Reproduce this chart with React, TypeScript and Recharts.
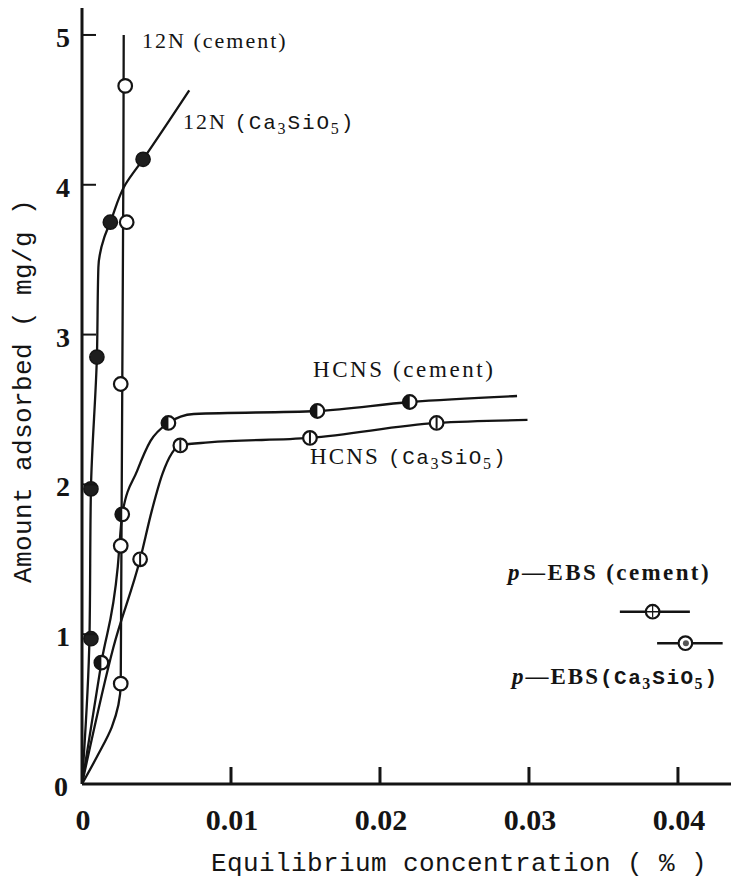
import React from 'react';
import { ComposedChart, Line, Scatter, XAxis, YAxis, ErrorBar } from 'recharts';

// ---------- axis ticks ----------
const xTicks = [0, 0.01, 0.02, 0.03, 0.04];
const xTickLabels = ['0', '0.01', '0.02', '0.03', '0.04'];
const yTicks = [0, 1, 2, 3, 4, 5];
const yTickLabels = ['0', '1', '2', '3', '4', '5'];

// ---------- 12N (cement) ----------
const n12CementCurveX = [0, 0.0011, 0.002, 0.0026, 0.0028];
const n12CementCurveY = [0, 0.2, 0.38, 0.67, 5.0];
const n12CementPtsX = [0.0026, 0.0026, 0.0026, 0.003, 0.0029];
const n12CementPtsY = [0.67, 1.59, 2.67, 3.75, 4.66];

// ---------- 12N (Ca3SiO5) ----------
const n12CasCurveX = [0, 0.0005, 0.0006, 0.001, 0.0011, 0.0015, 0.0019, 0.0029, 0.0041, 0.0072];
const n12CasCurveY = [0, 0.97, 1.97, 2.85, 3.45, 3.65, 3.75, 4.0, 4.17, 4.63];
const n12CasPtsX = [0.0006, 0.0006, 0.001, 0.0019, 0.0041];
const n12CasPtsY = [0.97, 1.97, 2.85, 3.75, 4.17];

// ---------- HCNS (cement) ----------
const hcnsCementCurveX = [0, 0.0013, 0.0024, 0.0027, 0.0037, 0.0046, 0.0058, 0.0075, 0.0158, 0.022, 0.0292];
const hcnsCementCurveY = [0, 0.81, 1.45, 1.8, 2.09, 2.29, 2.41, 2.47, 2.49, 2.55, 2.59];
const hcnsCementPtsX = [0.0013, 0.0027, 0.0058, 0.0158, 0.022];
const hcnsCementPtsY = [0.81, 1.8, 2.41, 2.49, 2.55];

// ---------- HCNS (Ca3SiO5) ----------
const hcnsCasCurveX = [0, 0.0021, 0.0039, 0.0047, 0.0054, 0.0066, 0.0085, 0.0153, 0.0238, 0.0299];
const hcnsCasCurveY = [0, 0.91, 1.5, 1.83, 2.07, 2.26, 2.28, 2.31, 2.41, 2.43];
const hcnsCasPtsX = [0.0039, 0.0066, 0.0153, 0.0238];
const hcnsCasPtsY = [1.5, 2.26, 2.31, 2.41];

// ---------- p-EBS ----------
const ebsCementX = [0.0383];
const ebsCementY = [1.15];
const ebsCementErr = [[0.0022, 0.0025]];
const ebsCasX = [0.0405];
const ebsCasY = [0.94];
const ebsCasErr = [[0.0019, 0.0025]];

// ---------- annotations (anchor = left end of text baseline) ----------
const annoIds = ['n12c', 'n12s', 'hcnsc', 'hcnss', 'ebsc', 'ebss'];
const annoX = [0.00403, 0.00678, 0.0155, 0.0153, 0.0286, 0.02886];
const annoY = [4.913, 4.373, 2.717, 2.136, 1.362, 0.668];

const xTitle = 'Equilibrium concentration ( % )';
const yTitle = 'Amount adsorbed ( mg/g )';

const zip = (xs: number[], ys: number[]) => xs.map((x, i) => ({ x, y: ys[i] }));

const INK = '#141414';
const SERIF = '"Liberation Serif", "DejaVu Serif", serif';
const MONO = '"Liberation Mono", "DejaVu Sans Mono", monospace';
const R = 6.8;

const OpenCircle = (p: any) => (
  <circle cx={p.cx} cy={p.cy} r={R} fill="#fff" stroke={INK} strokeWidth={2.2} />
);
const FilledCircle = (p: any) => (
  <circle cx={p.cx} cy={p.cy} r={R + 0.3} fill="#1e1e1e" stroke={INK} strokeWidth={1.5} />
);
const HalfCircle = (p: any) => (
  <g>
    <circle cx={p.cx} cy={p.cy} r={R} fill="#fff" stroke={INK} strokeWidth={2.2} />
    <path d={`M${p.cx},${p.cy - R} A${R},${R} 0 0 0 ${p.cx},${p.cy + R} Z`} fill={INK} />
  </g>
);
const BarCircle = (p: any) => (
  <g>
    <circle cx={p.cx} cy={p.cy} r={R} fill="#fff" stroke={INK} strokeWidth={2.2} />
    <line x1={p.cx} x2={p.cx} y1={p.cy - R + 1} y2={p.cy + R - 1} stroke={INK} strokeWidth={2} />
  </g>
);
const CrossCircle = (p: any) => (
  <g>
    <circle cx={p.cx} cy={p.cy} r={R} fill="#fff" stroke={INK} strokeWidth={2.2} />
    <line x1={p.cx - R} x2={p.cx + R} y1={p.cy} y2={p.cy} stroke={INK} strokeWidth={1.5} />
    <line x1={p.cx} x2={p.cx} y1={p.cy - R + 1} y2={p.cy + R - 1} stroke={INK} strokeWidth={1.2} />
  </g>
);
const DotCircle = (p: any) => (
  <g>
    <circle cx={p.cx} cy={p.cy} r={R} fill="#fff" stroke={INK} strokeWidth={2.2} />
    <circle cx={p.cx + 0.5} cy={p.cy} r={3} fill="#555" />
  </g>
);

const Sub = ({ c, size }: { c: string; size: number }) => (
  <tspan fontSize={size} dy={5}>{c}</tspan>
);

const renderAnno = (id: string, x: number, y: number) => {
  const base = { x, y, fill: INK, fontFamily: SERIF } as any;
  switch (id) {
    case 'n12c':
      return <text {...base} fontSize={22} letterSpacing={2}>12N (cement)</text>;
    case 'n12s':
      return (
        <text {...base} fontSize={22} letterSpacing={2}>
          12N{' '}
          <tspan fontFamily={MONO} fontSize={21} letterSpacing={1.8}>(Ca</tspan>
          <Sub c="3" size={16} />
          <tspan fontFamily={MONO} fontSize={21} letterSpacing={1.8} dy={-5}>SiO</tspan>
          <Sub c="5" size={16} />
          <tspan fontFamily={MONO} fontSize={21} letterSpacing={1.8} dy={-5}>)</tspan>
        </text>
      );
    case 'hcnsc':
      return <text {...base} fontSize={23} letterSpacing={2.6}>HCNS (cement)</text>;
    case 'hcnss':
      return (
        <text {...base} fontSize={23} letterSpacing={2.2}>
          HCNS{' '}
          <tspan fontFamily={MONO} fontSize={21} letterSpacing={1.5}>(Ca</tspan>
          <Sub c="3" size={16} />
          <tspan fontFamily={MONO} fontSize={21} letterSpacing={1.5} dy={-5}>SiO</tspan>
          <Sub c="5" size={16} />
          <tspan fontFamily={MONO} fontSize={21} letterSpacing={1.5} dy={-5}>)</tspan>
        </text>
      );
    case 'ebsc':
      return (
        <text {...base} fontSize={23} fontWeight="bold" letterSpacing={2.4}>
          <tspan fontStyle="italic">p</tspan>—EBS (cement)
        </text>
      );
    case 'ebss':
      return (
        <text {...base} fontSize={23} fontWeight="bold" letterSpacing={2}>
          <tspan fontStyle="italic">p</tspan>—EBS
          <tspan fontFamily={MONO} fontSize={21} letterSpacing={1.5}>(Ca</tspan>
          <Sub c="3" size={16} />
          <tspan fontFamily={MONO} fontSize={21} letterSpacing={1.5} dy={-5}>SiO</tspan>
          <Sub c="5" size={16} />
          <tspan fontFamily={MONO} fontSize={21} letterSpacing={1.5} dy={-5}>)</tspan>
        </text>
      );
    default:
      return null;
  }
};

const AnnoShape = (p: any) => {
  const id = p.payload?.id ?? p.id;
  return renderAnno(id, p.cx, p.cy);
};

const XTick = (props: any) => {
  const { x, y, payload } = props;
  const v = payload.value;
  const i = xTicks.indexOf(v);
  const label = i >= 0 ? xTickLabels[i] : String(v);
  return (
    <g>
      {v !== 0 && <line x1={x} x2={x} y1={y} y2={y - 17} stroke={INK} strokeWidth={3} />}
      <text x={x + 1} y={y + 46} textAnchor="middle" fontFamily={SERIF} fontWeight="bold" fontSize={30} fill={INK}>
        {label}
      </text>
    </g>
  );
};

const YTick = (props: any) => {
  const { x, y, payload } = props;
  const v = payload.value;
  const i = yTicks.indexOf(v);
  const label = i >= 0 ? yTickLabels[i] : String(v);
  return (
    <g>
      {v !== 0 && <line x1={x} x2={x + 14} y1={y} y2={y} stroke={INK} strokeWidth={2} />}
      <text x={v === 0 ? x - 14 : x - 12} y={y + 12} textAnchor="end" fontFamily={SERIF} fontWeight="bold" fontSize={28} fill={INK}>
        {label}
      </text>
    </g>
  );
};

export default function App() {
  const annoData = annoIds.map((id, i) => ({ id, x: annoX[i], y: annoY[i] }));
  const ebsC = ebsCementX.map((x, i) => ({ x, y: ebsCementY[i], err: ebsCementErr[i] }));
  const ebsS = ebsCasX.map((x, i) => ({ x, y: ebsCasY[i], err: ebsCasErr[i] }));
  const lineProps = {
    dataKey: 'y',
    stroke: INK,
    strokeWidth: 2.3,
    dot: false,
    activeDot: false,
    isAnimationActive: false,
    legendType: 'none' as const,
  };
  return (
    <div style={{ position: 'absolute', left: 0, top: 0, width: 731, height: 881, background: '#fff' }}>
      <ComposedChart width={731} height={881} margin={{ top: 8, right: 0, bottom: 0, left: 0 }}>
        <XAxis
          xAxisId={0}
          type="number"
          dataKey="x"
          domain={[0, 0.04356]}
          allowDataOverflow
          ticks={xTicks}
          interval={0}
          height={97}
          tickSize={0}
          tickMargin={0}
          tick={<XTick />}
          axisLine={{ stroke: INK, strokeWidth: 3 }}
          tickLine={false}
        />
        <XAxis
          xAxisId="top"
          orientation="top"
          type="number"
          dataKey="x"
          domain={[0, 0.04356]}
          height={0}
          tick={false}
          tickLine={false}
          axisLine={{ stroke: INK, strokeWidth: 2.5 }}
        />
        <YAxis
          type="number"
          domain={[0, 5.18]}
          allowDataOverflow
          ticks={yTicks}
          interval={0}
          width={82}
          tickSize={0}
          tickMargin={0}
          tick={<YTick />}
          axisLine={{ stroke: INK, strokeWidth: 3 }}
          tickLine={false}
        />

        <Line {...lineProps} data={zip(n12CementCurveX, n12CementCurveY)} type="monotoneY" />
        <Line {...lineProps} data={zip(n12CasCurveX, n12CasCurveY)} type="monotoneY" />
        <Line {...lineProps} data={zip(hcnsCementCurveX, hcnsCementCurveY)} type="monotoneX" />
        <Line {...lineProps} data={zip(hcnsCasCurveX, hcnsCasCurveY)} type="monotoneX" />

        <Scatter data={zip(n12CasPtsX, n12CasPtsY)} dataKey="y" shape={FilledCircle} isAnimationActive={false} />
        <Scatter data={zip(n12CementPtsX, n12CementPtsY)} dataKey="y" shape={OpenCircle} isAnimationActive={false} />
        <Scatter data={zip(hcnsCementPtsX, hcnsCementPtsY)} dataKey="y" shape={HalfCircle} isAnimationActive={false} />
        <Scatter data={zip(hcnsCasPtsX, hcnsCasPtsY)} dataKey="y" shape={BarCircle} isAnimationActive={false} />

        <Scatter data={ebsC} dataKey="y" shape={CrossCircle} isAnimationActive={false}>
          <ErrorBar dataKey="err" direction="x" width={0} stroke={INK} strokeWidth={2.5} />
        </Scatter>
        <Scatter data={ebsS} dataKey="y" shape={DotCircle} isAnimationActive={false}>
          <ErrorBar dataKey="err" direction="x" width={0} stroke={INK} strokeWidth={2.5} />
        </Scatter>

        <Scatter data={annoData} dataKey="y" shape={AnnoShape} isAnimationActive={false} />
      </ComposedChart>
      <svg
        width={731}
        height={881}
        style={{ position: 'absolute', left: 0, top: 0, pointerEvents: 'none' }}
      >
        <text x={459} y={871} textAnchor="middle" fontFamily={MONO} fontSize={26} letterSpacing={0.4} fill={INK}>
          {xTitle}
        </text>
        <text
          x={0}
          y={0}
          transform="translate(31,391) rotate(-90)"
          textAnchor="middle"
          fontFamily={MONO}
          fontSize={26}
          letterSpacing={0.4}
          fill={INK}
        >
          {yTitle}
        </text>
      </svg>
    </div>
  );
}
